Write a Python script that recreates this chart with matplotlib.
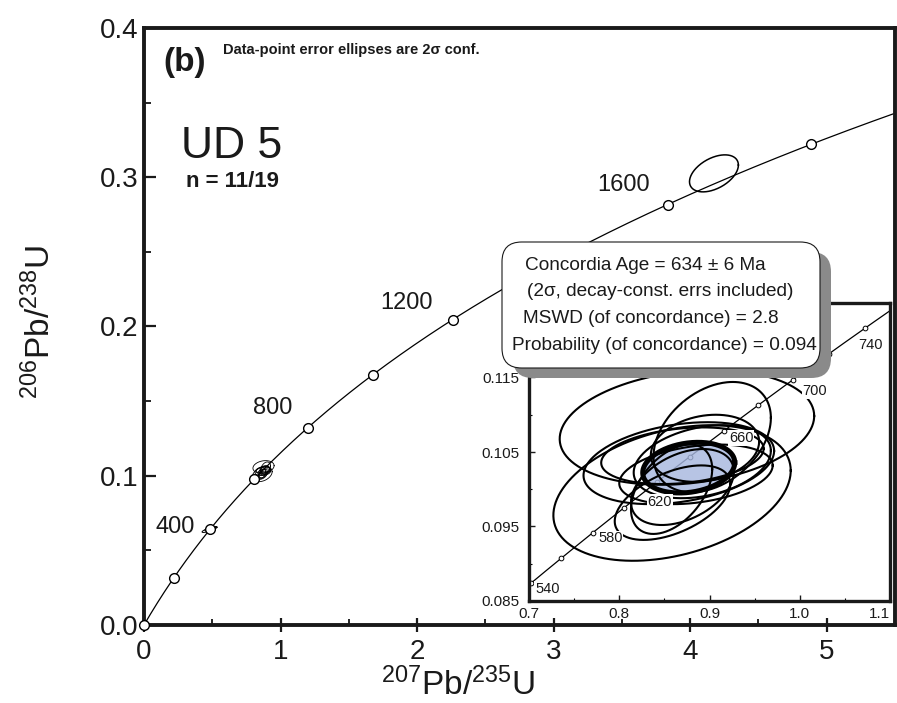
import numpy as np
import matplotlib
matplotlib.use('Agg')
import matplotlib.pyplot as plt
from matplotlib.patches import FancyBboxPatch
from matplotlib.ticker import MultipleLocator, FixedLocator, FormatStrFormatter

# ---------------- data ----------------
LAMBDA_238 = 1.55125e-10   # decay constants (1/yr)
LAMBDA_235 = 9.8485e-10

main_marker_ages = [0, 200, 400, 600, 800, 1000, 1200, 1400, 1600, 1800]
main_label_ages = [400, 800, 1200, 1600]
inset_marker_ages = [540, 560, 580, 600, 620, 640, 660, 680, 700, 720, 740, 760]
inset_label_ages = [540, 580, 620, 660, 700, 740]
inset_xticks = [0.7, 0.8, 0.9, 1.0, 1.1]
inset_yticks = [0.085, 0.095, 0.105, 0.115]

# concordant cluster (2 sigma ellipses): centre x, centre y, half-width x, half-height y, rho
ell_x = [0.875, 0.8585, 0.903, 0.866, 0.859, 0.870, 0.892, 0.870, 0.885, 0.858, 0.895]
ell_y = [0.1083, 0.0995, 0.1070, 0.1035, 0.0982, 0.1003, 0.1037, 0.1045, 0.1020, 0.1000, 0.1055]
ell_sx = [0.141, 0.1315, 0.065, 0.1056, 0.064, 0.057, 0.076, 0.090, 0.085, 0.045, 0.060]
ell_sy = [0.0077, 0.0091, 0.0074, 0.0055, 0.0050, 0.0051, 0.0049, 0.0038, 0.0040, 0.0060, 0.0045]
ell_rho = [0.20, 0.33, 0.35, 0.30, 0.50, 0.40, 0.30, 0.25, 0.30, 0.45, 0.20]
main_cluster_scale = 0.55   # cluster drawn smaller in the overview panel

# concordia age ellipse
conc_age = 634
conc_err = 6
conc_x, conc_y, conc_sx, conc_sy, conc_rho = 0.877, 0.1029, 0.051, 0.0034, 0.20
mswd = 2.8
prob = 0.094

# ellipses near 400 Ma
e400_x = [0.475, 0.490]
e400_y = [0.0638, 0.0645]
e400_sx = [0.050, 0.045]
e400_sy = [0.0018, 0.0015]
e400_rho = [0.80, 0.70]

# discordant ellipse near 1600 Ma
disc_x, disc_y, disc_sx, disc_sy, disc_rho = 4.174, 0.3026, 0.179, 0.0124, 0.45

# ---------------- fonts ----------------
plt.rcParams['font.family'] = ['Liberation Sans', 'DejaVu Sans']
plt.rcParams['mathtext.fontset'] = 'custom'
plt.rcParams['mathtext.rm'] = 'Liberation Sans'
plt.rcParams['mathtext.it'] = 'Liberation Sans:italic'
plt.rcParams['mathtext.bf'] = 'Liberation Sans:bold'

TXT = '#1a1a1a'


def concordia(t_ma):
    t = np.asarray(t_ma, dtype=float) * 1e6
    return np.expm1(LAMBDA_235 * t), np.expm1(LAMBDA_238 * t)


def ellipse(cx, cy, sx, sy, rho, n=240):
    th = np.linspace(0, 2 * np.pi, n)
    x = cx + sx * np.cos(th)
    y = cy + sy * (rho * np.cos(th) + np.sqrt(1 - rho ** 2) * np.sin(th))
    return x, y


fig = plt.figure(figsize=(8.97, 7.03), dpi=100)
W, H = 897.0, 703.0

# ---------------- main axes ----------------
ax = fig.add_axes([144 / W, 1 - 625 / H, (895 - 144) / W, (625 - 28) / H])
ax.set_xlim(0, 5.5)
ax.set_ylim(0, 0.4)
for s in ax.spines.values():
    s.set_linewidth(2.8)
    s.set_color('#1a1a1a')

tc = np.linspace(0, 2000, 800)
cx_, cy_ = concordia(tc)
ax.plot(cx_, cy_, color='black', lw=0.9, zorder=2)
mx, my = concordia(main_marker_ages)
ax.plot(mx, my, 'o', ms=7, mfc='white', mec='black', mew=1.0, zorder=4, clip_on=False)

lab_off = {400: (-25, 2), 800: (-25, 14), 1200: (-33, 12), 1600: (-32, 14)}
for a in main_label_ages:
    px, py = concordia([a])
    ax.annotate(str(a), (px[0], py[0]), xytext=lab_off[a], textcoords='offset points',
                ha='center', va='center', fontsize=17, color=TXT)

mean_x = np.mean(ell_x)
mean_y = np.mean(ell_y)
for i in range(len(ell_x)):
    k = main_cluster_scale
    ex, ey = ellipse(mean_x + k * (ell_x[i] - mean_x), mean_y + k * (ell_y[i] - mean_y),
                     k * ell_sx[i], k * ell_sy[i], ell_rho[i])
    ax.plot(ex, ey, color='black', lw=0.6, zorder=3)
for i in range(len(e400_x)):
    ex, ey = ellipse(e400_x[i], e400_y[i], e400_sx[i], e400_sy[i], e400_rho[i])
    ax.plot(ex, ey, color='black', lw=0.7, zorder=3)
ex, ey = ellipse(disc_x, disc_y, disc_sx, disc_sy, disc_rho)
ax.plot(ex, ey, color='black', lw=1.1, zorder=3)

ax.xaxis.set_major_locator(MultipleLocator(1))
ax.xaxis.set_minor_locator(MultipleLocator(0.5))
ax.yaxis.set_major_locator(MultipleLocator(0.1))
ax.yaxis.set_minor_locator(MultipleLocator(0.05))
ax.xaxis.set_major_formatter(FormatStrFormatter('%d'))
ax.yaxis.set_major_formatter(FormatStrFormatter('%.1f'))
ax.tick_params(axis='x', which='major', direction='inout', length=9.5, width=1.6, pad=5,
               labelsize=20, colors=TXT)
ax.tick_params(axis='x', which='minor', direction='in', length=4, width=1.2)
ax.tick_params(axis='y', which='major', direction='in', length=8.5, width=1.6, pad=4,
               labelsize=20, colors=TXT)
ax.tick_params(axis='y', which='minor', direction='in', length=5, width=1.2)

fig.text(458 / W, 1 - 695 / H, r'$^{207}$Pb/$^{235}$U', ha='center', va='baseline',
         fontsize=24, color=TXT)
fig.text(40 / W, 1 - 322 / H, r'$^{206}$Pb/$^{238}$U', ha='center', va='center',
         fontsize=24, color=TXT, rotation=90)

fig.text(163 / W, 1 - 62 / H, '(b)', ha='left', va='center', fontsize=24,
         fontweight='bold', color=TXT)
fig.text(223 / W, 1 - 50 / H, 'Data-point error ellipses are 2σ conf.', ha='left',
         va='center', fontsize=10.5, fontweight='bold', color=TXT)
fig.text(181 / W, 1 - 158 / H, 'UD 5', ha='left', va='baseline', fontsize=32, color=TXT)
fig.text(186 / W, 1 - 187 / H, 'n = 11/19', ha='left', va='baseline', fontsize=16,
         fontweight='bold', color=TXT)

# ---------------- inset ----------------
ins = fig.add_axes([529 / W, 1 - 601 / H, (890 - 529) / W, (601 - 303) / H])
ins.set_xlim(0.7, 1.1)
ins.set_ylim(0.085, 0.125)
ins.set_facecolor('white')
for s in ins.spines.values():
    s.set_linewidth(2.4)
    s.set_color('#1a1a1a')
ti = np.linspace(500, 800, 400)
ix, iy = concordia(ti)
ins.plot(ix, iy, color='black', lw=0.9, zorder=2)
imx, imy = concordia(inset_marker_ages)
ins.plot(imx, imy, 'o', ms=3.4, mfc='white', mec='black', mew=0.7, zorder=2.5)

# concordia age ellipse: fill semi-transparent over the curve
fx, fy = ellipse(conc_x, conc_y, conc_sx, conc_sy, conc_rho)
ins.fill(fx, fy, color='#a7b7df', alpha=0.82, zorder=2.6, lw=0)
ins.plot(fx, fy, color='black', lw=3.6, zorder=3.5)

for i in range(len(ell_x)):
    ex, ey = ellipse(ell_x[i], ell_y[i], ell_sx[i], ell_sy[i], ell_rho[i])
    ins.plot(ex, ey, color='black', lw=1.5, zorder=3)

in_off = {540: (3, -4, 'left'), 580: (4, -4, 'left'), 620: (2, -14, 'center'),
          660: (4, -5, 'left'), 700: (7, -8, 'left'), 740: (4, -12, 'center')}
for a in inset_label_ages:
    px, py = concordia([a])
    dx, dy, ha = in_off[a]
    ins.annotate(str(a), (px[0], py[0]), xytext=(dx, dy), textcoords='offset points',
                 ha=ha, va='center', fontsize=10.5, color=TXT, zorder=6,
                 bbox=dict(boxstyle='square,pad=0.05', fc='white', ec='none'))

ins.set_xticks(inset_xticks, ['%.1f' % v for v in inset_xticks])
ins.set_yticks(inset_yticks, ['%.3f' % v for v in inset_yticks])
ins.xaxis.set_minor_locator(FixedLocator([0.75, 0.85, 0.95, 1.05]))
ins.yaxis.set_minor_locator(FixedLocator([0.09, 0.10, 0.11, 0.12]))
ins.tick_params(which='major', direction='in', length=4, width=1.0, labelsize=11,
                colors=TXT)
ins.tick_params(axis='x', which='major', pad=4)
ins.tick_params(axis='y', which='major', pad=7)
ins.tick_params(which='minor', direction='in', length=2.5, width=0.8)
ins.xaxis.get_major_ticks()[-1].label1.set_horizontalalignment('right')

# ---------------- callout box ----------------
bx0, by0, bx1, by1 = 502, 242, 820, 368
shadow = FancyBboxPatch(((bx0 + 11) / W, 1 - (by1 + 10) / H), (bx1 - bx0) / W,
                        (by1 - by0) / H, boxstyle='round,pad=0,rounding_size=0.022',
                        transform=fig.transFigure, fc='#8a8a8a', ec='none', zorder=5,
                        mutation_aspect=W / H)
box = FancyBboxPatch((bx0 / W, 1 - by1 / H), (bx1 - bx0) / W, (by1 - by0) / H,
                     boxstyle='round,pad=0,rounding_size=0.022',
                     transform=fig.transFigure, fc='white', ec='#1a1a1a', lw=0.8, zorder=6,
                     mutation_aspect=W / H)
fig.add_artist(shadow)
fig.add_artist(box)

box_lines = ['Concordia Age = %d ± %d Ma' % (conc_age, conc_err),
             '(2σ, decay-const. errs included)',
             'MSWD (of concordance) = %.1f' % mswd,
             'Probability (of concordance) = %.3f' % prob]
box_lx = [525, 527, 523, 512]
box_ly = [265, 292, 319, 346]
for s, lx, ly in zip(box_lines, box_lx, box_ly):
    fig.text(lx / W, 1 - ly / H, s, ha='left', va='center', fontsize=13.7, color=TXT,
             zorder=7)

fig.savefig('out.png', dpi=100)
